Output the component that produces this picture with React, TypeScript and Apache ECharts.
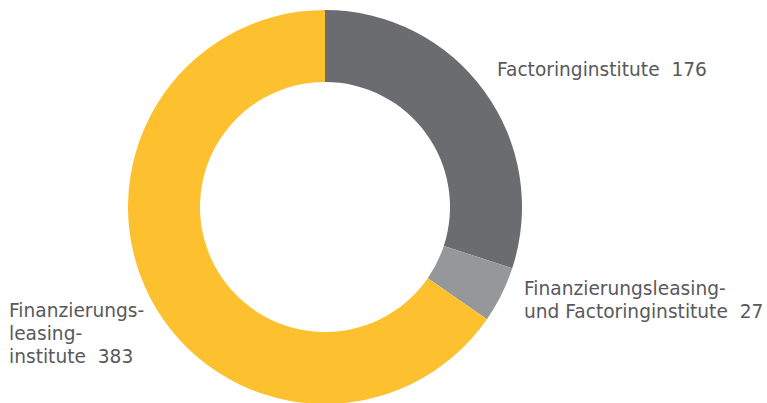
import React, { useEffect, useRef } from "react";
import * as echarts from "echarts";

const categories = [
  "Factoringinstitute",
  "Finanzierungsleasing-\nund Factoringinstitute",
  "Finanzierungs-\nleasing-\ninstitute",
];
const values = [176, 27, 383];
const colors = ["#6b6c70", "#96979a", "#fdc130"];
const labelPos = [
  { x: 497, y: 69 },
  { x: 524, y: 300 },
  { x: 9, y: 333 },
];

export default function App() {
  const ref = useRef<HTMLDivElement>(null);
  useEffect(() => {
    document.body.style.margin = "0";
    const chart = echarts.init(ref.current!, null, { renderer: "svg" });
    chart.setOption({
      animation: false,
      series: [
        {
          type: "pie",
          center: [325, 207],
          radius: [125, 197],
          startAngle: 90,
          clockwise: true,
          silent: true,
          data: categories.map((name, i) => ({
            name,
            value: values[i],
            itemStyle: { color: colors[i] },
          })),
          label: {
            show: true,
            formatter: (p: any) => `${p.name}  ${p.value}`,
            fontFamily: "'DejaVu Sans', Verdana, sans-serif",
            fontSize: 18.6,
            lineHeight: 23,
            color: "#58595b",
            overflow: "none",
            width: 400,
          },
          labelLine: { show: false },
          labelLayout: (p: any) => ({
            x: labelPos[p.dataIndex].x,
            y: labelPos[p.dataIndex].y,
            align: "left",
            verticalAlign: "middle",
            hideOverlap: false,
          }),
        },
      ],
    });
    return () => chart.dispose();
  }, []);
  return (
    <div
      ref={ref}
      style={{ position: "absolute", left: 0, top: 0, width: 767, height: 403 }}
    />
  );
}
